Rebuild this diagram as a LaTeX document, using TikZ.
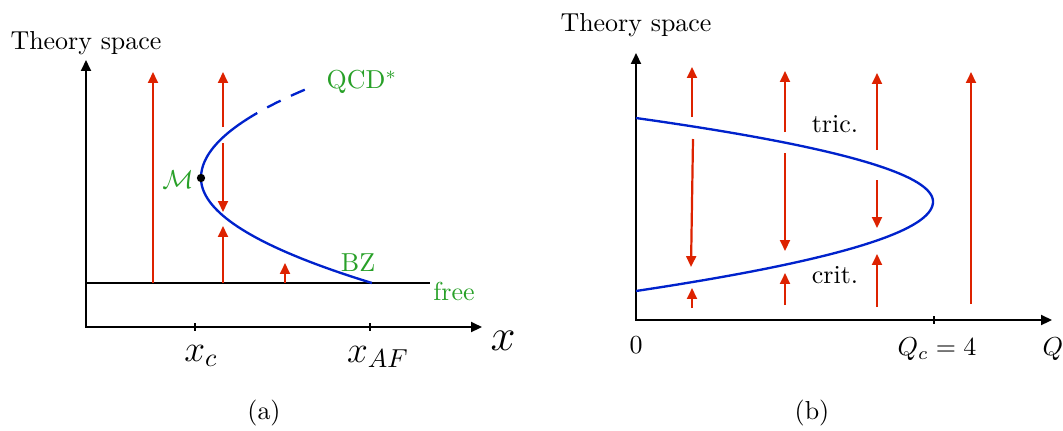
\documentclass[tikz,border=0pt]{standalone}
\usetikzlibrary{arrows.meta}
\definecolor{myred}{RGB}{221,34,0}
\definecolor{myblue}{RGB}{0,34,204}
\definecolor{mygreen}{RGB}{40,160,40}
\begin{document}
\begin{tikzpicture}[x=0.385pt,y=-0.385pt,
  tip/.style={-{Triangle[length=4.2pt,width=3.8pt]}},
  axis/.style={line width=0.9pt,{Triangle[length=4.2pt,width=3.8pt]}-{Triangle[length=4.2pt,width=3.8pt]}},
  flow/.style={myred,line width=0.85pt,tip},
  curve/.style={myblue,line width=0.9pt},
  lab/.style={inner sep=0pt},
  glab/.style={text=mygreen,inner sep=0pt}]
\useasboundingbox (0,0) rectangle (1063,430);

% ---------- panel (a) ----------
\coordinate (LyTop) at (86,60);
\coordinate (LxEnd) at (482,327);
\draw[axis] (LyTop) |- (LxEnd);
\coordinate (FreeA) at (86,283);
\coordinate (FreeB) at (430,283);
\draw[line width=0.9pt] (FreeA) -- (FreeB);
\draw[line width=0.6pt] (195,323) -- (195,331);
\draw[line width=0.6pt] (370,323) -- (370,331);

\draw[curve] plot[domain=113:283, samples=80, variable=\t]
  ({201+(\t<178 ? 0.0133 : 0.01551)*(\t-178)*(\t-178)},\t);
\draw[curve, dash pattern=on 5.8pt off 4.4pt, dash phase=5.8pt]
  plot[domain=113:87, samples=20, variable=\t]
  ({201+0.0133*(\t-178)*(\t-178)},\t);

\draw[flow] (153,283) -- (153,72);
\draw[flow] (223,127) -- (223,72);
\draw[flow] (223,143) -- (223,212);
\draw[flow] (223,283) -- (223,226);
\draw[flow] (285,283) -- (285,263);

\fill (201,178) circle (1.6pt);
\node[glab] (M) at (178,180) {$\mathcal{M}$};
\node[glab] (QCD) at (362,82) {QCD$^*$};
\node[glab] (BZ) at (358,263) {BZ};
\node[glab] (free) at (454,291) {free};
\node[lab] (xc) at (201,356) {\Large $x_c$};
\node[lab] (xAF) at (378,357) {\Large $x_{AF}$};
\node[lab] (xax) at (503,341) {\LARGE $x$};
\node[lab] (TSa) at (86,43) {Theory space};
\node[lab] (capa) at (264,413) {(a)};

% ---------- panel (b) ----------
\coordinate (RyTop) at (636,53);
\coordinate (RxEnd) at (1052,320);
\draw[axis] (RyTop) |- (RxEnd);
\draw[line width=0.6pt] (934,316) -- (934,324);

\draw[curve] plot[domain=118:291, samples=100, variable=\t]
  ({933-(\t<201.7 ? 0.0424 : 0.03724)*(\t-201.7)*(\t-201.7)},\t);

\draw[flow] (692,117) -- (692,67);
\draw[flow] (693,139) -- (691,267);
\draw[flow] (692,308) -- (692,288);

\draw[flow] (785,132) -- (785,71);
\draw[flow] (785,153) -- (785,251);
\draw[flow] (785,305) -- (785,273);

\draw[flow] (877,150) -- (877,73);
\draw[flow] (877,180) -- (877,228);
\draw[flow] (877,307) -- (877,254);

\draw[flow] (971,304) -- (971,72);

\node[lab] (TSb) at (636,25) {Theory space};
\node[lab] (tric) at (835,124) {tric.};
\node[lab] (crit) at (835,275) {crit.};
\node[lab] (zero) at (636,345) {$0$};
\node[lab] (Qc) at (937,349) {$Q_c=4$};
\node[lab] (Q) at (1053,349) {$Q$};
\node[lab] (capb) at (812,413) {(b)};
\end{tikzpicture}
\end{document}
